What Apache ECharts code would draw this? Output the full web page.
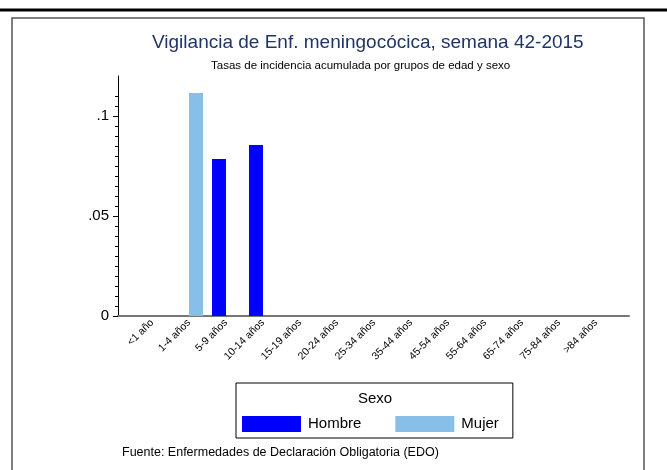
<!DOCTYPE html>
<html>
<head>
<meta charset="utf-8">
<title>Vigilancia de Enf. meningocócica</title>
<script src="https://cdn.jsdelivr.net/npm/echarts@6/dist/echarts.min.js"></script>
<style>
  html, body { margin: 0; padding: 0; background: #fff; }
  #chart { width: 667px; height: 470px; }
</style>
</head>
<body>
<div id="chart"></div>
<script>
// grupos de edad
const categories = ['<1 año', '1-4 años', '5-9 años', '10-14 años', '15-19 años', '20-24 años',
  '25-34 años', '35-44 años', '45-54 años', '55-64 años', '65-74 años', '75-84 años', '>84 años']
// tasas por sexo
const hombre = [0, 0, 0.0785, 0.0855, 0, 0, 0, 0, 0, 0, 0, 0, 0]
const mujer = [0, 0.1115, 0, 0, 0, 0, 0, 0, 0, 0, 0, 0, 0]
// marcas del eje y
const yMajorTicks = [0, 0.05, 0.1]
const yMinorTicks = [0.005, 0.01, 0.015, 0.02, 0.025, 0.03, 0.035, 0.04, 0.045,
  0.055, 0.06, 0.065, 0.07, 0.075, 0.08, 0.085, 0.09, 0.095, 0.105, 0.11]

const font = 'Liberation Sans, Arial, sans-serif'
const chart = echarts.init(document.getElementById('chart'))

const option = {
  animation: false,
  backgroundColor: '#fff',
  textStyle: { fontFamily: font },
  title: [
    {
      text: 'Vigilancia de Enf. meningocócica, semana 42-2015',
      left: 152, top: 33, padding: 0,
      textStyle: { fontSize: 19, fontWeight: 'normal', color: '#1f3566', fontFamily: font }
    },
    {
      text: 'Tasas de incidencia acumulada por grupos de edad y sexo',
      left: 211, top: 60, padding: 0,
      textStyle: { fontSize: 11.5, fontWeight: 'normal', color: '#000', fontFamily: font }
    },
    {
      text: 'Sexo',
      left: 358, top: 391, padding: 0,
      textStyle: { fontSize: 15, fontWeight: 'normal', color: '#000', fontFamily: font }
    },
    {
      text: 'Fuente: Enfermedades de Declaración Obligatoria (EDO)',
      left: 122, top: 446, padding: 0,
      textStyle: { fontSize: 12.5, fontWeight: 'normal', color: '#000', fontFamily: font }
    }
  ],
  graphic: [
    { type: 'line', shape: { x1: 0, y1: 10, x2: 667, y2: 10 }, style: { stroke: '#000', lineWidth: 3 } },
    { type: 'rect', shape: { x: 12, y: 18, width: 632, height: 470 }, style: { fill: 'none', stroke: '#555', lineWidth: 1.5 } }
  ],
  legend: {
    data: ['Hombre', 'Mujer'],
    left: 236, top: 383,
    orient: 'horizontal',
    padding: [33, 14, 6, 6],
    itemWidth: 59, itemHeight: 16, itemGap: 34,
    icon: 'rect',
    borderColor: '#000', borderWidth: 1,
    textStyle: { fontSize: 15, color: '#000', fontFamily: font, padding: [0, 0, 0, 2] }
  },
  grid: [
    // marco de ejes
    { left: 118, top: 76, width: 511, height: 240 },
    // zona de barras
    { left: 133.5, top: 76, width: 481, height: 240 }
  ],
  xAxis: [
    {
      gridIndex: 0, type: 'value', min: 0, max: 1,
      axisLine: { show: true, lineStyle: { color: '#777', width: 2 } },
      axisTick: { show: false }, axisLabel: { show: false }, splitLine: { show: false }
    },
    {
      gridIndex: 1, type: 'category', data: categories,
      axisLine: { show: false }, axisTick: { show: false },
      axisLabel: { rotate: 45, interval: 0, margin: 5, fontSize: 10.5, color: '#000', fontFamily: font }
    }
  ],
  yAxis: [
    {
      gridIndex: 0, type: 'value', min: 0, max: 0.12, position: 'left',
      axisLine: { show: true, lineStyle: { color: '#000', width: 1 } },
      axisTick: { show: true, customValues: yMajorTicks, length: 5, lineStyle: { color: '#000' } },
      axisLabel: {
        customValues: yMajorTicks, margin: 9, fontSize: 15, color: '#000', fontFamily: font,
        formatter: v => (v === 0 ? '0' : String(v).replace(/^0/, ''))
      },
      splitLine: { show: false }
    },
    {
      gridIndex: 0, type: 'value', min: 0, max: 0.12, position: 'left', offset: 0,
      axisLine: { show: false },
      axisTick: { show: true, customValues: yMinorTicks, length: 3, lineStyle: { color: '#000' } },
      axisLabel: { show: false },
      splitLine: { show: false }
    },
    { gridIndex: 1, type: 'value', min: 0, max: 0.12, show: false }
  ],
  series: [
    {
      name: 'Hombre', type: 'bar', xAxisIndex: 1, yAxisIndex: 2,
      data: hombre, barWidth: 14, barGap: '0%',
      itemStyle: { color: '#0000ff' }
    },
    {
      name: 'Mujer', type: 'bar', xAxisIndex: 1, yAxisIndex: 2,
      data: mujer, barWidth: 14, barGap: '0%',
      itemStyle: { color: '#87bfe8' }
    }
  ]
}
chart.setOption(option)
</script>
</body>
</html>
